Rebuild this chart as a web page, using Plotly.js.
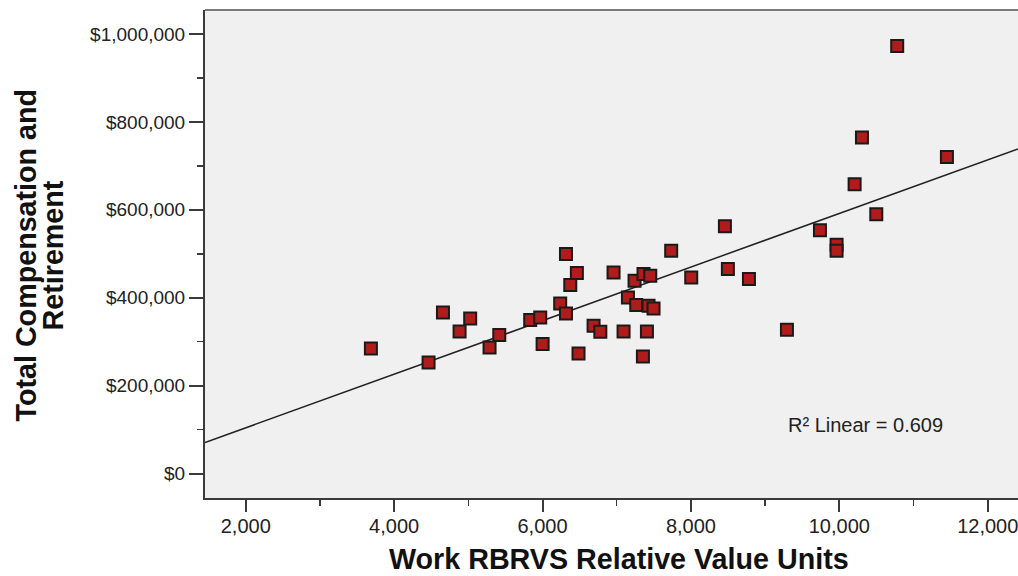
<!DOCTYPE html>
<html>
<head>
<meta charset="utf-8">
<script src="https://cdn.plot.ly/plotly-3.0.1.min.js"></script>
<style>
  html, body { margin: 0; padding: 0; background: #ffffff; overflow: hidden; }
  #chart { width: 1018px; height: 576px; }
</style>
</head>
<body>
<div id="chart"></div>
<script>
// Work RBRVS relative value units (x) and total compensation & retirement (y)
const rvu = [
  3687, 4464, 4658, 4882, 5025, 5286, 5417, 5834, 5969, 6001,
  6238, 6316, 6316, 6463, 6374, 6485, 6688, 6779, 6957, 7092,
  7151, 7240, 7263, 7361, 7452, 7429, 7496, 7407, 7353, 7734,
  8004, 8458, 8498, 8782, 9294, 9739, 9963, 9963, 10206, 10305,
  10498, 10780, 11450
];
const compensation = [
  284800, 253000, 366600, 323400, 353000, 287000, 315200, 349300, 355200, 294800,
  387000, 364300, 499300, 456100, 428800, 273400, 336400, 322700, 457500, 323400,
  400700, 438600, 383400, 453900, 450000, 381800, 375700, 323400, 266600, 506800,
  446100, 562900, 465200, 442500, 327300, 553800, 520400, 506800, 658400, 764300,
  590200, 972700, 720400
];
const xTickVals = [2000, 4000, 6000, 8000, 10000, 12000];
const xTickText = ["2,000", "4,000", "6,000", "8,000", "10,000", "12,000"];
const yTickVals = [0, 200000, 400000, 600000, 800000, 1000000];
const yTickText = ["$0", "$200,000", "$400,000", "$600,000", "$800,000", "$1,000,000"];
const xTitle = "Work RBRVS Relative Value Units";
const yTitleLines = ["Total Compensation and", "Retirement"];
const r2Label = "R\u00B2 Linear = 0.609";

const xRange = [1451, 12408];
const yRange = [-55500, 1054600];

// least-squares fit line from the data
const n = rvu.length;
const mx = rvu.reduce((a, b) => a + b, 0) / n;
const my = compensation.reduce((a, b) => a + b, 0) / n;
let sxy = 0, sxx = 0;
for (let i = 0; i < n; i++) {
  sxy += (rvu[i] - mx) * (compensation[i] - my);
  sxx += (rvu[i] - mx) * (rvu[i] - mx);
}
const slope = sxy / sxx;
const intercept = my - slope * mx;
const fitX = [xRange[0], xRange[1]];
const fitY = fitX.map(v => intercept + slope * v);

const font = "Liberation Sans, Arial, Helvetica, sans-serif";

const traces = [
  {
    type: "scatter", mode: "lines", x: fitX, y: fitY,
    line: { color: "#222222", width: 1.5 }, hoverinfo: "skip", showlegend: false
  },
  {
    type: "scatter", mode: "markers", x: rvu, y: compensation,
    marker: { symbol: "square", size: 12, color: "#b01c1c", line: { color: "#1a1a1a", width: 2 } },
    showlegend: false
  }
];

const layout = {
  width: 1018, height: 576,
  margin: { l: 205, r: 0, t: 10, b: 78 },
  paper_bgcolor: "#ffffff",
  plot_bgcolor: "#f0f0f0",
  font: { family: font, color: "#222222" },
  showlegend: false,
  xaxis: {
    range: xRange, tickmode: "array", tickvals: xTickVals, ticktext: xTickText,
    ticklabeloverflow: "allow", ticklabelstandoff: -3,
    showgrid: false, zeroline: false,
    showline: true, linecolor: "#3a3a3a", linewidth: 2,
    ticks: "outside", ticklen: 12, tickwidth: 2, tickcolor: "#3a3a3a",
    tickfont: { size: 20, color: "#222222", family: font },
    minor: { ticks: "outside", ticklen: 6, tickwidth: 1.5, tickcolor: "#3a3a3a", dtick: 1000, showgrid: false }
  },
  yaxis: {
    range: yRange, tickmode: "array", tickvals: yTickVals, ticktext: yTickText,
    ticklabeloverflow: "allow",
    showgrid: false, zeroline: false,
    showline: true, linecolor: "#3a3a3a", linewidth: 2,
    ticks: "outside", ticklen: 14, tickwidth: 2, tickcolor: "#3a3a3a",
    tickfont: { size: 19, color: "#222222", family: font },
    minor: { ticks: "outside", ticklen: 6, tickwidth: 1.5, tickcolor: "#3a3a3a", dtick: 100000, showgrid: false }
  },
  shapes: [
    { type: "line", xref: "paper", yref: "paper", x0: 0, x1: 1, y0: 1, y1: 1,
      line: { color: "#7a7a7a", width: 2 } }
  ],
  annotations: [
    { text: r2Label, xref: "paper", yref: "paper", x: 0.813, y: 0.1496,
      xanchor: "center", yanchor: "middle", showarrow: false,
      font: { size: 20, color: "#222222", family: font } },
    { text: "<b>" + xTitle + "</b>", xref: "paper", yref: "paper",
      x: (619 - 205) / 813, y: -0.124, xanchor: "center", yanchor: "middle",
      showarrow: false, font: { size: 28.7, color: "#111111", family: font } },
    { text: "<b>" + yTitleLines[0] + "</b>", xref: "paper", yref: "paper",
      x: -(205 - 26) / 813, y: 0.497, xanchor: "center", yanchor: "middle",
      textangle: -90, showarrow: false, font: { size: 28.7, color: "#111111", family: font } },
    { text: "<b>" + yTitleLines[1] + "</b>", xref: "paper", yref: "paper",
      x: -(205 - 53) / 813, y: 0.497, xanchor: "center", yanchor: "middle",
      textangle: -90, showarrow: false, font: { size: 28.7, color: "#111111", family: font } }
  ]
};

Plotly.newPlot("chart", traces, layout, { displayModeBar: false, staticPlot: true });
</script>
</body>
</html>
